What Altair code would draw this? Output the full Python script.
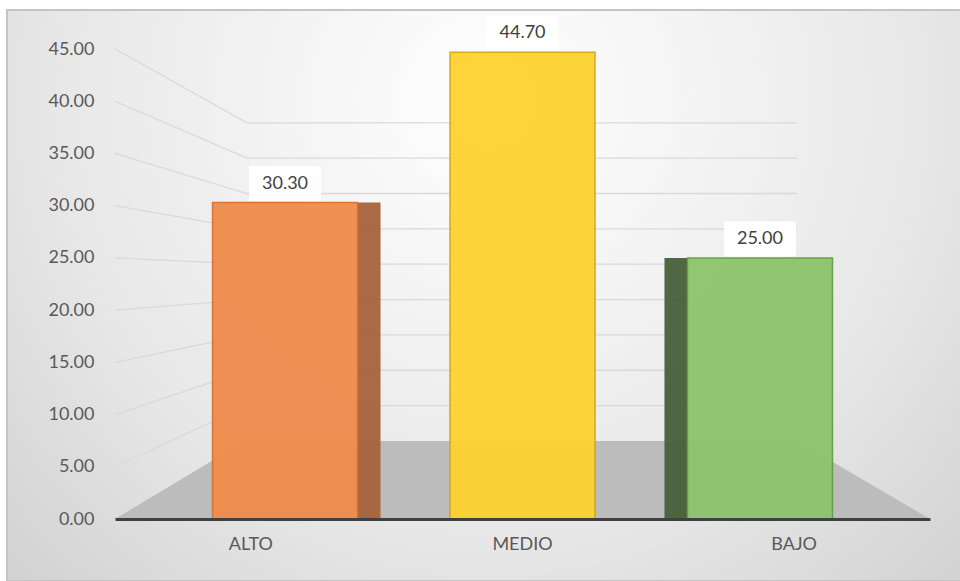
import altair as alt
import pandas as pd

# ---- data ----
categorias = ["ALTO", "MEDIO", "BAJO"]
valores = [30.30, 44.70, 25.00]
ticks_y = [0, 5, 10, 15, 20, 25, 30, 35, 40, 45]

# ---- styles ----
relleno = ["#F08B4B", "#FDD22F", "#8DC46B"]
borde = ["#D8702E", "#D2A70E", "#629E41"]
W, H = 815, 470
# perspective of the back wall (decoration geometry)
WALL_L, WALL_R = 132, 682
WALL_BASE, WALL_K = 7.47, 0.677

df = pd.DataFrame({"cat": categorias, "val": valores})
y_scale = alt.Scale(domain=[0, 45], nice=False, zero=True)
y_axis = alt.Axis(values=ticks_y, format=".2f", labelFontSize=18, labelColor="#595959",
                  labelFont="Lato", domain=False, ticks=False, grid=False,
                  labelPadding=21, zindex=1, title=None)


def yenc(field):
    return alt.Y(field, type="quantitative", scale=y_scale, axis=y_axis, title=None)


gradient = {
    "gradient": "radial",
    "x1": 0.5, "y1": 0.3, "r1": 0,
    "x2": 0.5, "y2": 0.3, "r2": 0.8,
    "stops": [{"offset": 0, "color": "#FFFFFF"},
              {"offset": 0.55, "color": "#E8E8E8"},
              {"offset": 1, "color": "#C9C9C9"}],
}

one = pd.DataFrame({"a": [0]})

bg = alt.Chart(one).mark_rect(fill=gradient, stroke="#C4C4C4", strokeWidth=2).encode(
    x=alt.value(-108), x2=alt.value(W + 45), y=alt.value(-39), y2=alt.value(H + 62)
)

grid_rows = []
for t in ticks_y[1:]:
    back = WALL_BASE + WALL_K * t
    grid_rows += [{"t": t, "px": 0, "yv": t},
                  {"t": t, "px": WALL_L, "yv": back},
                  {"t": t, "px": WALL_R, "yv": back}]
grid = alt.Chart(pd.DataFrame(grid_rows)).mark_line(color="#D9D9D9", strokeWidth=1.3).encode(
    x=alt.X("px:Q", scale=None, axis=None),
    y=yenc("yv"),
    detail="t:N",
    order="px:Q",
)

floor_df = pd.DataFrame({"px": [0, WALL_L - 2, WALL_R, W], "v": [0, WALL_BASE, WALL_BASE, 0]})
floor = alt.Chart(floor_df).mark_area(color="#BCBCBC").encode(
    x=alt.X("px:Q", scale=None, axis=None),
    y=yenc("v"),
    y2=alt.datum(0),
)

axis_layer = alt.Chart(df).mark_point(opacity=0).encode(
    x=alt.X("cat:N", sort=categorias,
            scale=alt.Scale(type="band", paddingInner=0, paddingOuter=0),
            axis=alt.Axis(labelFontSize=18, labelColor="#595959", labelFont="Lato",
                          domainColor="#404040", domainWidth=3, ticks=False,
                          labelPadding=16, labelAngle=0, zindex=1, title=None)),
    y=yenc("val"),
)

xb = alt.X("cat:N", sort=categorias, scale=alt.Scale(type="point", padding=0.716), axis=None)
base = alt.Chart(df)

bars = base.mark_bar(size=145, strokeWidth=1.5, opacity=0.95).encode(
    x=xb, y=yenc("val"),
    fill=alt.Fill("cat:N", scale=alt.Scale(domain=categorias, range=relleno), legend=None),
    stroke=alt.Stroke("cat:N", scale=alt.Scale(domain=categorias, range=borde), legend=None),
)

side_alto = base.transform_filter(alt.datum.cat == "ALTO").mark_bar(
    size=23, xOffset=84, color="#A5633A", opacity=0.95).encode(x=xb, y=yenc("val"))
side_bajo = base.transform_filter(alt.datum.cat == "BAJO").mark_bar(
    size=23, xOffset=-84, color="#465F38", opacity=0.95).encode(x=xb, y=yenc("val"))

label_box = base.mark_rect(width=72, height=35, fill="white", yOffset=-19).encode(
    x=xb, y=yenc("val"))
labels = base.mark_text(fontSize=18, color="#404040", font="Lato", dy=-19, baseline="middle").encode(
    x=xb, y=yenc("val"), text=alt.Text("val:Q", format=".2f"))

bar_group = alt.layer(side_alto, side_bajo, bars, label_box, labels)

chart = alt.layer(bg, grid, floor, axis_layer, bar_group).resolve_scale(x="independent").properties(
    width=W, height=H,
    autosize=alt.AutoSizeParams(type="none"),
    padding={"left": 115, "top": 49, "right": 30, "bottom": 62},
    background="white",
).configure_view(stroke=None)

chart.save("out.html", embed_options={"renderer": "svg", "actions": False})
